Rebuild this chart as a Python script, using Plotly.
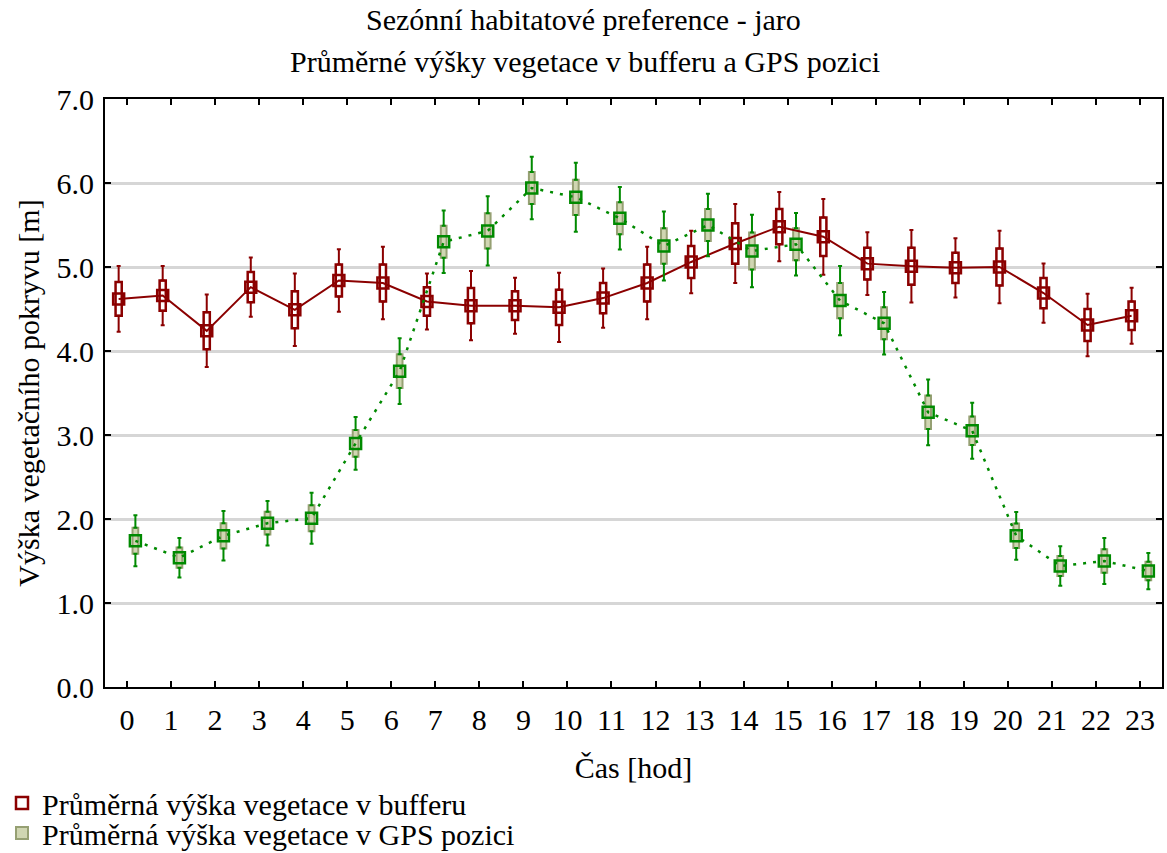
import plotly.graph_objects as go

# ---- data ----
hours = list(range(24))
hour_labels = [str(h) for h in hours]
y_ticks = [0, 1, 2, 3, 4, 5, 6, 7]
y_tick_labels = ["0.0", "1.0", "2.0", "3.0", "4.0", "5.0", "6.0", "7.0"]

buffer_mean = [4.62, 4.66, 4.24, 4.76, 4.49, 4.84, 4.81, 4.59, 4.54, 4.54, 4.52, 4.63,
               4.81, 5.06, 5.28, 5.48, 5.36, 5.04, 5.01, 4.99, 5.00, 4.69, 4.31, 4.42]
buffer_se = [0.20, 0.18, 0.22, 0.18, 0.22, 0.19, 0.22, 0.17, 0.21, 0.17, 0.21, 0.18,
             0.22, 0.19, 0.24, 0.21, 0.23, 0.19, 0.22, 0.18, 0.22, 0.18, 0.19, 0.17]

gps_mean = [1.74, 1.54, 1.80, 1.95, 2.01, 2.90, 3.76, 5.30, 5.43, 5.94, 5.83, 5.58,
            5.25, 5.50, 5.19, 5.27, 4.60, 4.33, 3.27, 3.05, 1.80, 1.44, 1.50, 1.38]
gps_se = [0.155, 0.12, 0.15, 0.135, 0.155, 0.16, 0.20, 0.19, 0.21, 0.19, 0.21, 0.19,
          0.21, 0.19, 0.22, 0.19, 0.21, 0.19, 0.20, 0.17, 0.145, 0.12, 0.14, 0.11]

series_names = ["Průměrná výška vegetace v bufferu", "Průměrná výška vegetace v GPS pozici"]

# ---- style ----
FONT = "Liberation Serif"
FS = 30
RED = "#8B0000"
GREEN = "rgb(0,138,0)"
KHAKI_LINE = "rgb(150,160,115)"
KHAKI_FILL = "rgb(208,214,178)"
OFFSET = 0.19
Z = 1.96

W, H = 1167, 853
L, R, T, B = 105, 5, 99, 166
ph = H - T - B
pw = W - L - R


def px_x(px):
    return (px - L) / pw


def px_y(py):
    return (H - B - py) / ph


fig = go.Figure()


def add_series(xs, mean, se, name, legend_id, box_fill, box_line, box_lw, box_w,
               whisk_col, mean_col, line_dash, line_w):
    lo = [m - s for m, s in zip(mean, se)]
    hi = [m + s for m, s in zip(mean, se)]
    ext = [(Z - 1) * s for s in se]
    zeros = [0] * len(se)
    # SE box
    fig.add_trace(go.Bar(
        x=xs, y=[2 * s for s in se], base=lo, width=box_w,
        marker=dict(color=box_fill, line=dict(color=box_line, width=box_lw)),
        name=name, showlegend=True, legend=legend_id, hoverinfo="skip"))
    # upper whisker
    fig.add_trace(go.Scatter(
        x=xs, y=hi, mode="markers", marker=dict(size=1, opacity=0),
        error_y=dict(type="data", symmetric=False, array=ext, arrayminus=zeros,
                     color=whisk_col, thickness=2, width=2),
        showlegend=False, hoverinfo="skip"))
    # lower whisker
    fig.add_trace(go.Scatter(
        x=xs, y=lo, mode="markers", marker=dict(size=1, opacity=0),
        error_y=dict(type="data", symmetric=False, array=zeros, arrayminus=ext,
                     color=whisk_col, thickness=2, width=2),
        showlegend=False, hoverinfo="skip"))
    # mean line + marker
    fig.add_trace(go.Scatter(
        x=xs, y=mean, mode="lines+markers",
        line=dict(color=mean_col, width=line_w, dash=line_dash),
        marker=dict(symbol="square-open", size=11, color=mean_col,
                    line=dict(color=mean_col, width=2.5)),
        showlegend=False))


add_series([h - OFFSET for h in hours], buffer_mean, buffer_se, series_names[0], "legend",
           "white", RED, 2.5, 0.14, RED, RED, "solid", 2)
add_series([h + OFFSET for h in hours], gps_mean, gps_se, series_names[1], "legend2",
           KHAKI_FILL, KHAKI_LINE, 2, 0.13, GREEN, GREEN, "3px,7px", 2.5)

fig.add_annotation(text="Sezónní habitatové preference - jaro", xref="paper", yref="paper",
                   x=px_x(583.5), y=px_y(20), showarrow=False, xanchor="center",
                   yanchor="middle", font=dict(family=FONT, size=FS, color="black"))
fig.add_annotation(text="Průměrné výšky vegetace v bufferu a GPS pozici", xref="paper",
                   yref="paper", x=px_x(585), y=px_y(61), showarrow=False,
                   xanchor="center", yanchor="middle",
                   font=dict(family=FONT, size=FS, color="black"))

axis_common = dict(showline=True, linecolor="black", linewidth=2, mirror="ticks",
                   ticks="inside", ticklen=6, tickwidth=2, tickcolor="black",
                   zeroline=False, automargin=False,
                   tickfont=dict(family=FONT, size=FS, color="black"))

legend_common = dict(xref="paper", yref="paper", xanchor="left", yanchor="middle",
                     bgcolor="rgba(0,0,0,0)", borderwidth=0,
                     font=dict(family=FONT, size=FS, color="black"), itemwidth=30)

fig.update_layout(
    width=W, height=H,
    margin=dict(l=L, r=R, t=T, b=B, autoexpand=False),
    paper_bgcolor="white", plot_bgcolor="white",
    barmode="overlay",
    font=dict(family=FONT, size=FS, color="black"),
    xaxis=dict(range=[-0.5, 23.5], tickmode="array", tickvals=hours, ticktext=hour_labels,
               showgrid=False, tickangle=0, ticklabelstandoff=5,
               title=dict(text="Čas [hod]", font=dict(family=FONT, size=FS), standoff=22),
               **axis_common),
    yaxis=dict(range=[0, 7], tickmode="array", tickvals=y_ticks, ticktext=y_tick_labels,
               showgrid=True, gridcolor="rgb(214,214,214)", gridwidth=2.5,
               ticklabelstandoff=3,
               title=dict(text="Výška vegetačního pokryvu [m]",
                          font=dict(family=FONT, size=FS), standoff=8),
               **axis_common),
    legend=dict(x=px_x(2), y=px_y(803), **legend_common),
    legend2=dict(x=px_x(2), y=px_y(833), **legend_common),
    showlegend=True,
)

fig.write_html("out.html", config={"displayModeBar": False},
               post_script="document.body.style.margin='0';document.body.style.overflow='hidden';")
